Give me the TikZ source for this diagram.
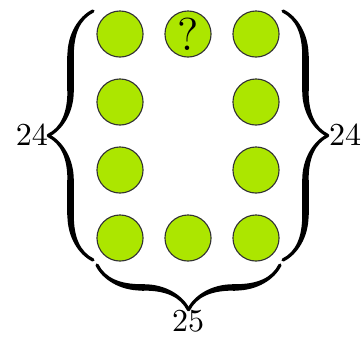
\documentclass[tikz,border=0pt]{standalone}
\usetikzlibrary{decorations.pathreplacing,calligraphy}
\definecolor{dotgreen}{RGB}{172,230,0}
\begin{document}
\begin{tikzpicture}[x=0.3125pt,y=-0.3125pt,
  dot/.style={circle,draw=black!80,line width=0.35pt,fill=dotgreen,minimum size=14.4pt,inner sep=0pt},
  bigbrace/.style={decorate,decoration={calligraphic brace,amplitude=14pt},line width=2pt,pen colour={black}},
  lbl/.style={inner sep=0pt,font=\normalsize}]
\useasboundingbox (0,0) rectangle (361,337);
\foreach \c/\x in {1/120,2/188,3/256}{
  \foreach \r/\y in {1/34,4/238}{
    \node[dot] (c\r\c) at (\x,\y) {};
  }
}
\node[dot] (c21) at (120,102) {};
\node[dot] (c31) at (120,170) {};
\node[dot] (c23) at (256,102) {};
\node[dot] (c33) at (256,170) {};
\node[font=\Large,inner sep=0pt] (q) at (c12) {?};
\coordinate (lt) at (93,11);
\coordinate (lb) at (93,260);
\coordinate (rt) at (283,11);
\coordinate (rb) at (283,260);
\coordinate (bl) at (97,265);
\coordinate (br) at (280,265);
\draw[bigbrace] (lb) -- (lt);
\draw[bigbrace] (rt) -- (rb);
\draw[bigbrace] (br) -- (bl);
\node[lbl] (l24) at (32,135) {24};
\node[lbl] (r24) at (345,135) {24};
\node[lbl] (b25) at (188,321) {25};
\end{tikzpicture}
\end{document}
